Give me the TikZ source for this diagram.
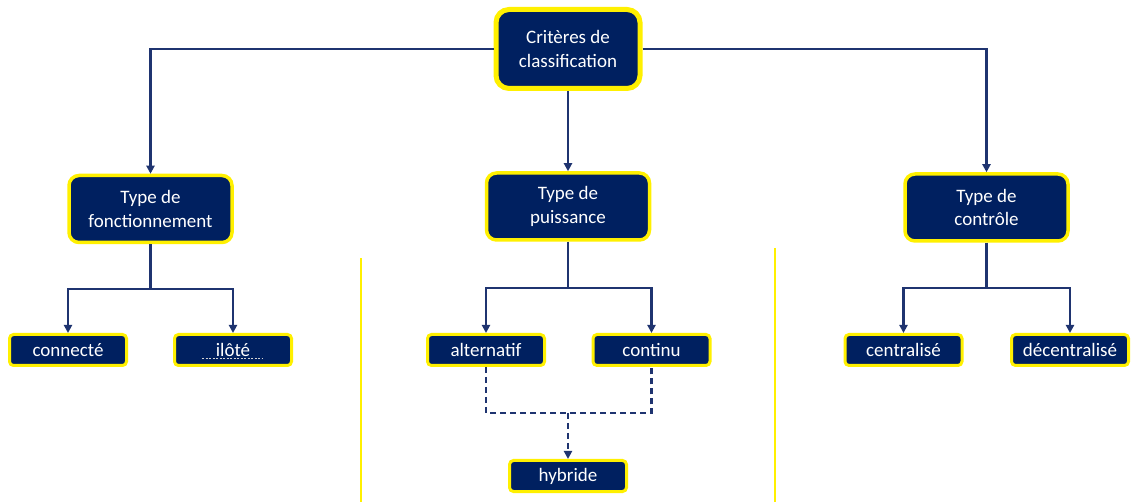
\documentclass[tikz,border=0pt]{standalone}
\usepackage{fontspec}
\setmainfont{Carlito}
\usetikzlibrary{arrows.meta}
\definecolor{navy}{HTML}{002060}
\definecolor{linkblue}{HTML}{1F3470}
\definecolor{hilite}{HTML}{FFF000}
\begin{document}
\begin{tikzpicture}[x=1pt,y=-1pt,
  box/.style={draw=hilite, fill=navy, text=white, align=center,
    font=\fontsize{19}{23.5}\selectfont, inner sep=0pt},
  rootbox/.style={box, line width=5pt, rounded corners=13pt,
    minimum width=144pt, minimum height=79pt},
  typebox/.style={box, line width=3.5pt, rounded corners=10pt,
    minimum width=163pt, minimum height=67pt},
  leafbox/.style={box, line width=3pt, rounded corners=4pt,
    minimum width=117pt, minimum height=31pt},
  conn/.style={draw=linkblue, line width=2.4pt,
    -{Triangle[length=8pt,width=8pt]}},
  plain/.style={draw=linkblue, line width=2.4pt},
  dashlink/.style={draw=linkblue, line width=2.4pt, dash pattern=on 6pt off 4pt},
  divider/.style={draw=hilite, line width=2pt}]
\useasboundingbox (0,0) rectangle (1133,502);

% top level
\node[rootbox] (root) at (568,49) {Critères de\\classification};

% second level
\node[typebox] (t1) at (150.5,209) {Type de\\fonctionnement};
\node[typebox] (t2) at (568,206.5) {Type de\\puissance};
\node[typebox] (t3) at (986.5,207.5) {Type de\\contrôle};

% leaves
\node[leafbox] (l1) at (68,350) {connecté};
\node[leafbox] (l2) at (233,350) {ilôté};
\node[leafbox] (l3) at (486,350) {alternatif};
\node[leafbox] (l4) at (651.5,350) {continu};
\node[leafbox] (l5) at (568,476) {hybride};
\node[leafbox] (l6) at (903.5,350) {centralisé};
\node[leafbox] (l7) at (1070,350) {décentralisé};

% faint underline in the ilôté box
\draw[gray!35, line width=0.5pt, dash pattern=on 2pt off 1.5pt] (202,358) -- (263,358);

% junction points
\coordinate (j1) at (150.5,289);
\coordinate (j2) at (568,288);
\coordinate (j3) at (986.5,288);
\coordinate (jh) at (568,413);

% root to categories
\draw[conn] (root.west) -| (t1.north);
\draw[conn] (root.east) -| (t3.north);
\draw[conn] (root.south) -- (t2.north);

% categories to leaves
\draw[plain] (t1.south) -- (j1);
\draw[conn] (j1) -| (l1.north);
\draw[conn] (j1) -| (l2.north);
\draw[plain] (t2.south) -- (j2);
\draw[conn] (j2) -| (l3.north);
\draw[conn] (j2) -| (l4.north);
\draw[plain] (t3.south) -- (j3);
\draw[conn] (j3) -| (l6.north);
\draw[conn] (j3) -| (l7.north);

% hybrid combination
\draw[dashlink] (l3.south) |- (jh) -| (l4.south);
\draw[dashlink, -{Triangle[length=8pt,width=8pt]}] (jh) -- (l5.north);

% column separators
\draw[divider] (361,258) -- (361,502);
\draw[divider] (775,248) -- (775,502);
\end{tikzpicture}
\end{document}
